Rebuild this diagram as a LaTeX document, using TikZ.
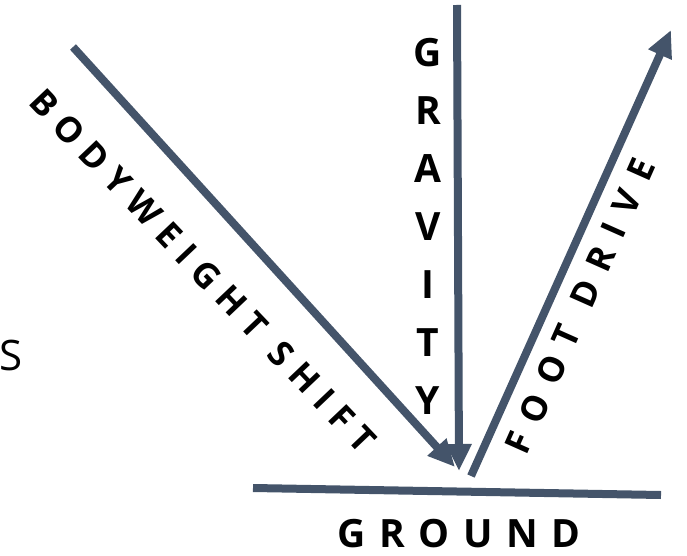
\documentclass[tikz,border=0pt]{standalone}
\usepackage{fontspec}
\setmainfont{Open Sans}
\usetikzlibrary{arrows.meta}
\definecolor{slate}{HTML}{44546A}

\begin{document}
\begin{tikzpicture}[
      x=1pt, y=-1pt,
      force/.style={draw=slate, line width=8pt, -{Triangle[length=27pt, width=24pt]}},
      groundline/.style={draw=slate, line width=8pt},
      forcetext/.style={font=\bfseries\fontsize{35}{35}\selectfont\addfontfeature{LetterSpace=#1}, inner sep=0pt},
      bigtext/.style={font=\bfseries\fontsize{39}{58}\selectfont, inner sep=0pt, align=center},
      groundtext/.style={font=\bfseries\fontsize{39}{39}\selectfont\addfontfeature{LetterSpace=35}, inner sep=0pt}
    ]
    \useasboundingbox (0,0) rectangle (687,556);

    % end points of the forces
    \coordinate (bwTop) at (73,47);
    \coordinate (gravTop) at (457,5);
    \coordinate (footStart) at (471,476);
    \coordinate (footTip) at (671,30);
    \coordinate (bwTip) at (455,467);
    \coordinate (gravTip) at (459,471);
    \coordinate (groundL) at (253,488);
    \coordinate (groundR) at (661,495);

    % forces
    \draw[force] (gravTop) -- (gravTip);
    \draw[force] (bwTop) -- (bwTip);
    \draw[force] (footStart) -- (footTip);
    \draw[groundline] (groundL) -- (groundR);

    % labels
    \node[bigtext] (gravity) at (428,226) {G\\R\\A\\V\\I\\T\\Y};
    \node[forcetext=29, rotate=-46.5] (bodyweight) at (203,271) {BODYWEIGHT SHIFT};
    \node[forcetext=40, rotate=66] (footdrive) at (580,306) {FOOT DRIVE};
    \node[groundtext] (ground) at (459,534) {GROUND};
    \node[font=\fontsize{42}{42}\selectfont, inner sep=0pt] (s) at (11,355) {S};
\end{tikzpicture}
\end{document}
